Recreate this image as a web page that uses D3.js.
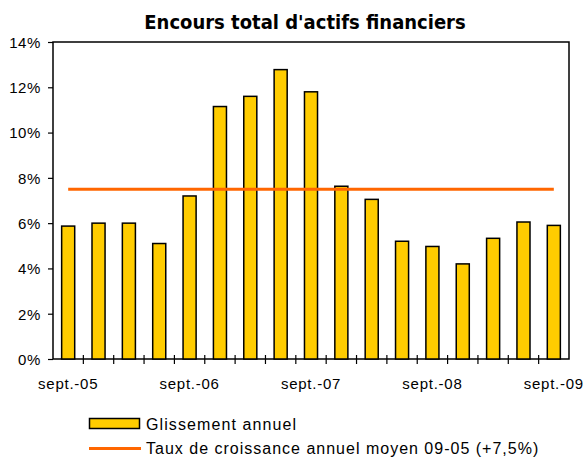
<!DOCTYPE html>
<html>
<head>
<meta charset="utf-8">
<script src="https://cdn.jsdelivr.net/npm/d3@7"></script>
<style>
  body { margin: 0; background: #fff; }
  svg text { font-family: "Liberation Sans", Arial, sans-serif; fill: #000; }
</style>
</head>
<body>
<svg id="chart" width="588" height="460"></svg>
<script>
// quarters sept.-05 .. sept.-09
const quarters = ["sept.-05","déc.-05","mars-06","juin-06","sept.-06","déc.-06","mars-07","juin-07",
  "sept.-07","déc.-07","mars-08","juin-08","sept.-08","déc.-08","mars-09","juin-09","sept.-09"]
const glissement = [5.87, 6.0, 6.0, 5.1, 7.2, 11.15, 11.6, 12.78, 11.8, 7.63, 7.05, 5.2, 4.97, 4.2, 5.33, 6.05, 5.9]
const tauxMoyen = 7.5
const yTicks = [0, 2, 4, 6, 8, 10, 12, 14]
const xLabels = ["sept.-05","sept.-06","sept.-07","sept.-08","sept.-09"]

const svg = d3.select("#chart")
const margin = {left: 53, top: 42, right: 19, bottom: 101}
const width = 588 - margin.left - margin.right
const height = 460 - margin.top - margin.bottom

svg.append("text")
  .attr("x", 305).attr("y", 29)
  .attr("text-anchor", "middle")
  .style("font-family", "'DejaVu Sans Condensed', 'DejaVu Sans', sans-serif")
  .style("font-weight", "bold")
  .style("font-size", "20px")
  .text("Encours total d'actifs financiers")

const g = svg.append("g").attr("transform", `translate(${margin.left},${margin.top})`)

let x = d3.scaleBand().domain(quarters).range([0, width]).paddingInner(0.57).paddingOuter(0.285)
let xb = d3.scaleBand().domain(quarters).range([0, width])
let y = d3.scaleLinear().domain([0, 14]).range([height, 0])

// frame
g.append("rect").attr("width", width).attr("height", height)
  .attr("fill", "none").attr("stroke", "#000").attr("stroke-width", 1.5)

g.selectAll("rect.bar").data(glissement).enter()
  .append("rect").attr("class", "bar")
  .attr("x", (d, i) => x(quarters[i]))
  .attr("y", d => y(d))
  .attr("width", x.bandwidth())
  .attr("height", d => height - y(d))
  .attr("fill", "#FFCC00").attr("stroke", "#000").attr("stroke-width", 1.5)

// average line
g.append("line")
  .attr("x1", xb(quarters[0]) + xb.bandwidth() / 2)
  .attr("x2", xb(quarters[quarters.length - 1]) + xb.bandwidth() / 2)
  .attr("y1", y(tauxMoyen)).attr("y2", y(tauxMoyen))
  .attr("stroke", "#FF6600").attr("stroke-width", 3)

// y axis
let yAxis = d3.axisLeft(y).tickValues(yTicks).tickFormat(d => d + "%").tickSize(5).tickPadding(7)
let ya = g.append("g").call(yAxis)
ya.select(".domain").remove()
ya.selectAll("line").attr("stroke", "#000").attr("stroke-width", 1.2)
ya.selectAll("text").style("font-size", "15px").style("letter-spacing", "0.6px")
  .attr("fill", "#000").attr("dy", "0.36em")

// x axis: ticks between quarters
const bounds = quarters.slice(1).map(q => xb(q))
g.selectAll("line.xt").data(bounds).enter()
  .append("line").attr("class", "xt")
  .attr("x1", d => d).attr("x2", d => d)
  .attr("y1", height - 4).attr("y2", height + 5)
  .attr("stroke", "#000").attr("stroke-width", 1.2)

g.selectAll("text.xl").data(xLabels).enter()
  .append("text").attr("class", "xl")
  .attr("x", d => xb(d) + xb.bandwidth() / 2)
  .attr("y", height + 30)
  .attr("text-anchor", "middle")
  .style("font-size", "15px").style("letter-spacing", "0.75px")
  .text(d => d)

// legend
const lg = svg.append("g")
lg.append("rect").attr("x", 89.5).attr("y", 418.5).attr("width", 50).attr("height", 10)
  .attr("fill", "#FFCC00").attr("stroke", "#000").attr("stroke-width", 1.5)
lg.append("text").attr("x", 146).attr("y", 429.5).style("font-size", "16px").style("letter-spacing", "1.1px")
  .text("Glissement annuel")
lg.append("line").attr("x1", 89).attr("x2", 141).attr("y1", 448.5).attr("y2", 448.5)
  .attr("stroke", "#FF6600").attr("stroke-width", 3)
lg.append("text").attr("x", 146).attr("y", 454).style("font-size", "16px").style("letter-spacing", "1px")
  .text("Taux de croissance annuel moyen 09-05 (+7,5%)")
</script>
</body>
</html>
